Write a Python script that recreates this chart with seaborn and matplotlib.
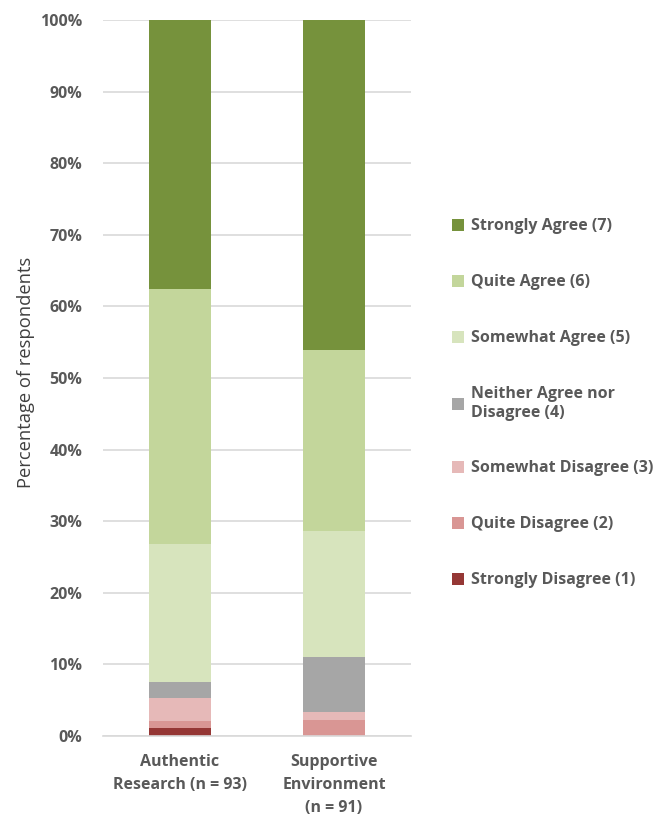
import matplotlib
matplotlib.use("Agg")
import matplotlib.pyplot as plt
import seaborn as sns
import pandas as pd
import numpy as np
from matplotlib.patches import Patch

categories = ["Authentic\nResearch (n = 93)", "Supportive\nEnvironment\n(n = 91)"]
n_resp = [93, 91]
levels = ["Strongly Disagree (1)", "Quite Disagree (2)", "Somewhat Disagree (3)",
          "Neither Agree nor\nDisagree (4)", "Somewhat Agree (5)", "Quite Agree (6)",
          "Strongly Agree (7)"]
counts_authentic = [1, 1, 3, 2, 18, 33, 35]
counts_supportive = [0, 2, 1, 7, 16, 23, 42]
colors = ["#953735", "#D99694", "#E6B9B8", "#A6A6A6", "#D7E4BD", "#C3D69B", "#76923C"]

sns.set_theme(style="white")
plt.rcParams['font.family'] = ['Open Sans', 'DejaVu Sans']
txt = "#595959"
grid = "#D9D9D9"

fig = plt.figure(figsize=(6.62, 8.18), dpi=100)
ax = fig.add_axes([103/662, 1-736/818, 308/662, 716/818])

pct = np.array([np.array(counts_authentic)/n_resp[0]*100,
                np.array(counts_supportive)/n_resp[1]*100])
cum = np.cumsum(pct, axis=1)

for i in range(len(levels)-1, -1, -1):
    df = pd.DataFrame({"cat": categories, "val": cum[:, i]})
    sns.barplot(data=df, x="cat", y="val", color=colors[i], width=0.4,
                saturation=1, ax=ax, linewidth=0, zorder=3)

ax.set_xlim(-0.5, 1.5)
ax.set_ylim(0, 100)
ax.set_yticks(np.arange(0, 101, 10))
ax.set_yticklabels([f"{v}%" for v in range(0, 101, 10)])
ax.yaxis.grid(True, color=grid, linewidth=1.2, zorder=0)
ax.set_axisbelow(True)
for s in ["top", "right", "left"]:
    ax.spines[s].set_visible(False)
ax.spines["bottom"].set_color(grid)
ax.spines["bottom"].set_linewidth(1.2)
ax.spines["bottom"].set_zorder(4)

ax.tick_params(axis="y", length=0, pad=15, labelsize=11.5, labelcolor=txt)
ax.tick_params(axis="x", which="major", length=0, pad=13, labelsize=11.5, labelcolor=txt)
ax.set_xticks([-0.5, 0.5, 1.5], minor=True)
ax.tick_params(axis="x", which="minor", length=6, color=grid, width=1.2)
for lab in ax.get_yticklabels() + ax.get_xticklabels():
    lab.set_fontweight("bold")
for lab in ax.get_xticklabels():
    lab.set_linespacing(1.6)
ax.set_xlabel("")
ax.set_ylabel("Percentage of respondents", fontsize=13.2, color="#404040")
ax.yaxis.set_label_coords(-0.222, 0.508)

handles = [Patch(facecolor=colors[i], edgecolor="none") for i in range(len(levels)-1, -1, -1)]
labels = [levels[i] for i in range(len(levels)-1, -1, -1)]
leg = fig.legend(handles, labels, loc="upper left", bbox_to_anchor=(438/662, 1-204/818),
                 frameon=False, labelspacing=2.5, handlelength=0.75, handleheight=0.75,
                 handletextpad=0.4, prop={"size": 11.5, "weight": "bold"})
for t in leg.get_texts():
    t.set_color(txt)

fig.savefig("out.png", dpi=100)
